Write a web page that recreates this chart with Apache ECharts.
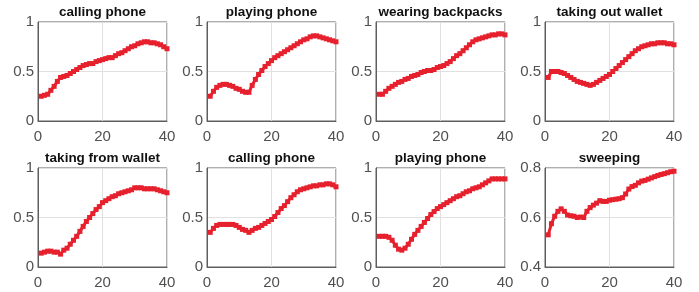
<!DOCTYPE html>
<html>
<head>
<meta charset="utf-8">
<script src="https://cdn.jsdelivr.net/npm/echarts@6/dist/echarts.min.js"></script>
<style>
  html, body { margin: 0; padding: 0; background: #fff; }
  #chart { width: 699px; height: 292px; }
</style>
</head>
<body>
<div id="chart"></div>
<script>
// panel titles, in reading order
const titles = [
  'calling phone', 'playing phone', 'wearing backpacks', 'taking out wallet',
  'taking from wallet', 'calling phone', 'playing phone', 'sweeping'
]

// x values 1..40 (frame index)
const frames = [
  1, 2, 3, 4, 5, 6, 7, 8, 9, 10, 11, 12, 13, 14, 15, 16, 17, 18, 19, 20,
  21, 22, 23, 24, 25, 26, 27, 28, 29, 30, 31, 32, 33, 34, 35, 36, 37, 38, 39, 40
]

const callingPhone1 = [
  0.25, 0.26, 0.27, 0.31, 0.35, 0.40, 0.44, 0.45, 0.46, 0.48,
  0.50, 0.52, 0.54, 0.56, 0.57, 0.58, 0.58, 0.60, 0.61, 0.62,
  0.63, 0.64, 0.64, 0.66, 0.68, 0.69, 0.71, 0.73, 0.75, 0.76,
  0.78, 0.79, 0.80, 0.80, 0.79, 0.79, 0.78, 0.77, 0.75, 0.73
]
const playingPhone1 = [
  0.25, 0.30, 0.34, 0.36, 0.37, 0.37, 0.36, 0.35, 0.33, 0.32,
  0.30, 0.29, 0.29, 0.36, 0.42, 0.47, 0.51, 0.55, 0.58, 0.61,
  0.64, 0.66, 0.68, 0.70, 0.72, 0.74, 0.76, 0.78, 0.80, 0.82,
  0.83, 0.85, 0.86, 0.86, 0.85, 0.84, 0.83, 0.82, 0.81, 0.80
]
const wearingBackpacks = [
  0.27, 0.27, 0.30, 0.33, 0.35, 0.37, 0.39, 0.40, 0.42, 0.43,
  0.45, 0.46, 0.47, 0.49, 0.50, 0.51, 0.51, 0.52, 0.54, 0.55,
  0.56, 0.58, 0.60, 0.63, 0.66, 0.68, 0.71, 0.74, 0.77, 0.80,
  0.82, 0.83, 0.84, 0.85, 0.86, 0.87, 0.87, 0.88, 0.88, 0.87
]
const takingOutWallet = [
  0.44, 0.50, 0.50, 0.50, 0.49, 0.48, 0.46, 0.44, 0.42, 0.40,
  0.39, 0.38, 0.37, 0.36, 0.37, 0.39, 0.41, 0.43, 0.45, 0.47,
  0.50, 0.53, 0.56, 0.59, 0.62, 0.65, 0.68, 0.71, 0.73, 0.75,
  0.76, 0.77, 0.78, 0.78, 0.79, 0.79, 0.79, 0.78, 0.78, 0.77
]
const takingFromWallet = [
  0.14, 0.15, 0.16, 0.16, 0.15, 0.15, 0.13, 0.17, 0.19, 0.23,
  0.27, 0.31, 0.36, 0.41, 0.46, 0.50, 0.54, 0.58, 0.61, 0.65,
  0.67, 0.69, 0.71, 0.72, 0.74, 0.75, 0.76, 0.77, 0.78, 0.80,
  0.80, 0.80, 0.79, 0.79, 0.79, 0.79, 0.78, 0.77, 0.76, 0.75
]
const callingPhone2 = [
  0.35, 0.39, 0.42, 0.43, 0.43, 0.43, 0.43, 0.43, 0.42, 0.40,
  0.38, 0.37, 0.35, 0.37, 0.39, 0.40, 0.42, 0.44, 0.46, 0.48,
  0.51, 0.55, 0.59, 0.62, 0.66, 0.70, 0.73, 0.76, 0.78, 0.79,
  0.80, 0.81, 0.82, 0.82, 0.83, 0.83, 0.84, 0.84, 0.83, 0.81
]
const playingPhone2 = [
  0.31, 0.31, 0.31, 0.30, 0.27, 0.22, 0.18, 0.17, 0.19, 0.23,
  0.28, 0.33, 0.37, 0.41, 0.45, 0.49, 0.53, 0.56, 0.59, 0.61,
  0.63, 0.65, 0.67, 0.69, 0.71, 0.72, 0.74, 0.76, 0.77, 0.79,
  0.80, 0.81, 0.83, 0.85, 0.87, 0.89, 0.89, 0.89, 0.89, 0.89
]
const sweeping = [
  0.530, 0.575, 0.605, 0.625, 0.635, 0.625, 0.610, 0.607, 0.605, 0.600,
  0.602, 0.600, 0.625, 0.640, 0.650, 0.658, 0.668, 0.665, 0.665, 0.670,
  0.672, 0.674, 0.676, 0.680, 0.695, 0.715, 0.725, 0.730, 0.740, 0.747,
  0.750, 0.755, 0.760, 0.765, 0.770, 0.774, 0.777, 0.781, 0.785, 0.787
]

const seriesData = [
  callingPhone1, playingPhone1, wearingBackpacks, takingOutWallet,
  takingFromWallet, callingPhone2, playingPhone2, sweeping
]

// y axis ranges per panel
const yMins = [0, 0, 0, 0, 0, 0, 0, 0.4]
const yMaxs = [1, 1, 1, 1, 1, 1, 1, 0.8]
const ySteps = [0.5, 0.5, 0.5, 0.5, 0.5, 0.5, 0.5, 0.2]

const FONT = 'Liberation Sans'
const RED = '#e6202d'
const BOX = '#5e5e5e'

// layout of the 2 x 4 panels (pixels)
const lefts = [38, 207, 376, 545]
const tops = [22, 168]
const W = 129
const H = 99

const chart = echarts.init(document.getElementById('chart'), null, { renderer: 'canvas' })

const grid = [], xAxis = [], yAxis = [], series = [], title = []
seriesData.forEach((vals, i) => {
  const col = i % 4
  const row = Math.floor(i / 4)
  grid.push({
    left: lefts[col], top: tops[row], width: W, height: H,
    show: true, borderColor: BOX, borderWidth: 1, backgroundColor: 'transparent'
  })
  title.push({
    text: titles[i],
    left: lefts[col] + W / 2,
    top: tops[row] - 17,
    textAlign: 'center',
    padding: 0,
    textStyle: { fontFamily: FONT, fontSize: 13.5, fontWeight: 'bold', color: '#111' }
  })
  xAxis.push({
    type: 'value', gridIndex: i, min: 0, max: 40, interval: 20,
    axisLine: { show: true, lineStyle: { color: BOX, width: 1 } },
    axisTick: { show: false },
    axisLabel: { fontFamily: FONT, fontSize: 15, color: '#505050', margin: 8 },
    splitLine: { show: true, lineStyle: { color: '#e0e0e0', width: 1 } }
  })
  yAxis.push({
    type: 'value', gridIndex: i, min: yMins[i], max: yMaxs[i], interval: ySteps[i],
    axisLine: { show: true, lineStyle: { color: BOX, width: 1 } },
    axisTick: { show: false },
    axisLabel: {
      fontFamily: FONT, fontSize: 15, color: '#505050', margin: 4,
      formatter: v => String(Math.round(v * 10) / 10)
    },
    splitLine: { show: true, lineStyle: { color: '#e0e0e0', width: 1 } }
  })
  series.push({
    type: 'line', xAxisIndex: i, yAxisIndex: i,
    data: frames.map((x, k) => [x, vals[k]]),
    symbol: 'rect', symbolSize: 5, showSymbol: true,
    itemStyle: { color: RED },
    lineStyle: { color: RED, width: 3 },
    animation: false
  })
})

chart.setOption({
  backgroundColor: '#fff',
  animation: false,
  title, grid, xAxis, yAxis, series
})
</script>
</body>
</html>
